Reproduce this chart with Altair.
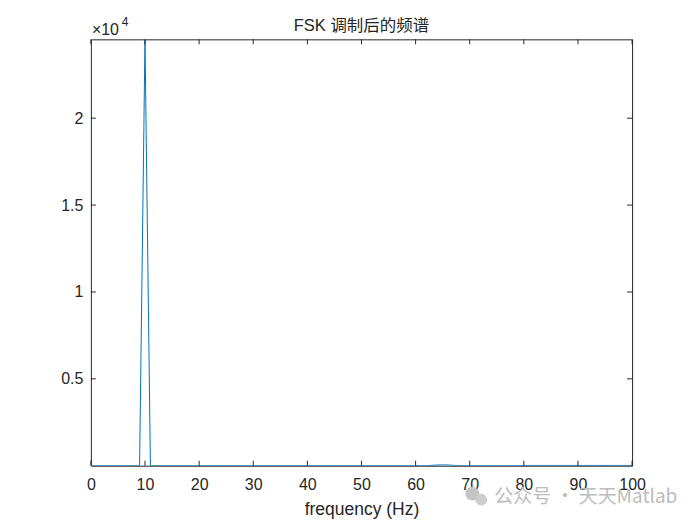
import altair as alt
import pandas as pd

# ---- data ----
freq = list(range(0, 101))
amp = [
    0, 0, 0, 0, 0, 0, 0, 0, 0, 0,          # 0-9
    24540, 0, 0, 0, 0, 0, 0, 0, 0, 0,      # 10-19
    0, 0, 0, 0, 0, 0, 0, 0, 0, 0,          # 20-29
    0, 0, 0, 0, 0, 0, 0, 0, 0, 0,          # 30-39
    0, 0, 0, 0, 0, 0, 0, 0, 0, 0,          # 40-49
    0, 0, 0, 0, 0, 0, 0, 0, 0, 0,          # 50-59
    0, 0, 0, 20, 40, 45, 40, 20, 0, 0,     # 60-69
    0, 0, 0, 0, 0, 0, 0, 0, 0, 0,          # 70-79
    15, 15, 15, 15, 15, 15, 15, 15, 15, 15,  # 80-89
    15, 15, 15, 15, 15, 15, 15, 15, 15, 15,  # 90-99
    15,                                    # 100
]
x_ticks = [0, 10, 20, 30, 40, 50, 60, 70, 80, 90, 100]
y_ticks = [5000, 10000, 15000, 20000]
title_text = "FSK 调制后的频谱"
x_title = "frequency (Hz)"
exp_base = "×10"
exp_pow = "4"
watermark = "公众号 · 天天Matlab"

W, H = 542, 427
FONT = "Liberation Sans, Arial, Noto Sans CJK SC"
INK = "#262626"

df = pd.DataFrame({"f": freq, "a": amp})
xt = pd.DataFrame({"f": x_ticks})
yt = pd.DataFrame({"a": y_ticks})

xscale = alt.Scale(domain=[0, 100], nice=False, zero=False)
yscale = alt.Scale(domain=[0, 24540], nice=False, zero=False)

xaxis = alt.Axis(values=x_ticks, title=x_title, tickSize=0, domain=False, grid=False,
                 labelPadding=11, labelFontSize=16, titleFontSize=17.5, titleFontWeight="normal",
                 labelColor=INK, titleColor=INK, labelFont=FONT, titleFont=FONT, titlePadding=8,
                 labelFlush=False)
yaxis = alt.Axis(values=y_ticks, title=None, tickSize=0, domain=False, grid=False,
                 labelPadding=8, labelFontSize=16, labelColor=INK, labelFont=FONT,
                 labelExpr="datum.value / 10000")

line = alt.Chart(df).mark_line(color="#0072BD", strokeWidth=1, clip=True).encode(
    x=alt.X("f:Q", scale=xscale, axis=xaxis),
    y=alt.Y("a:Q", scale=yscale, axis=yaxis),
)

def xrule(y1, y2):
    return alt.Chart(xt).mark_rule(color=INK, strokeWidth=1).encode(
        x=alt.X("f:Q", scale=xscale, axis=xaxis),
        y=alt.value(y1), y2=alt.value(y2))

def yrule(x1, x2):
    return alt.Chart(yt).mark_rule(color=INK, strokeWidth=1).encode(
        y=alt.Y("a:Q", scale=yscale, axis=yaxis),
        x=alt.value(x1), x2=alt.value(x2))

exp1 = alt.Chart(pd.DataFrame({"t": [exp_base]})).mark_text(
    align="left", baseline="alphabetic", fontSize=16, font=FONT, color=INK
).encode(text="t:N", x=alt.value(1), y=alt.value(-4))
exp2 = alt.Chart(pd.DataFrame({"t": [exp_pow]})).mark_text(
    align="left", baseline="alphabetic", fontSize=12, font=FONT, color=INK
).encode(text="t:N", x=alt.value(31), y=alt.value(-13))

wm_icon1 = alt.Chart(pd.DataFrame({"k": [0]})).mark_circle(color="#c4c4c4", opacity=1).encode(
    x=alt.value(382), y=alt.value(455), size=alt.value(190))
wm_icon2 = alt.Chart(pd.DataFrame({"k": [0]})).mark_circle(color="#cdcdcd", opacity=1).encode(
    x=alt.value(391), y=alt.value(461), size=alt.value(140))
wm = alt.Chart(pd.DataFrame({"t": [watermark]})).mark_text(
    align="left", baseline="middle", fontSize=19, font="Noto Sans CJK SC", color="#bdbdbd"
).encode(text="t:N", x=alt.value(404), y=alt.value(458))

chart = alt.layer(
    line,
    xrule(H, H - 5), xrule(0, 5),
    yrule(0, 5), yrule(W, W - 5),
    exp1, exp2, wm_icon1, wm_icon2, wm,
).properties(
    width=W, height=H,
    title=alt.TitleParams(title_text, fontSize=16.5, fontWeight="normal", font=FONT,
                          color=INK, offset=-18),
    autosize=alt.AutoSizeParams(type="none"),
    padding={"left": 83, "top": 31, "right": 60, "bottom": 55},
    background="white",
).configure_view(stroke=INK, strokeWidth=1)

chart.save("out.html", embed_options={"renderer": "svg", "actions": False})
